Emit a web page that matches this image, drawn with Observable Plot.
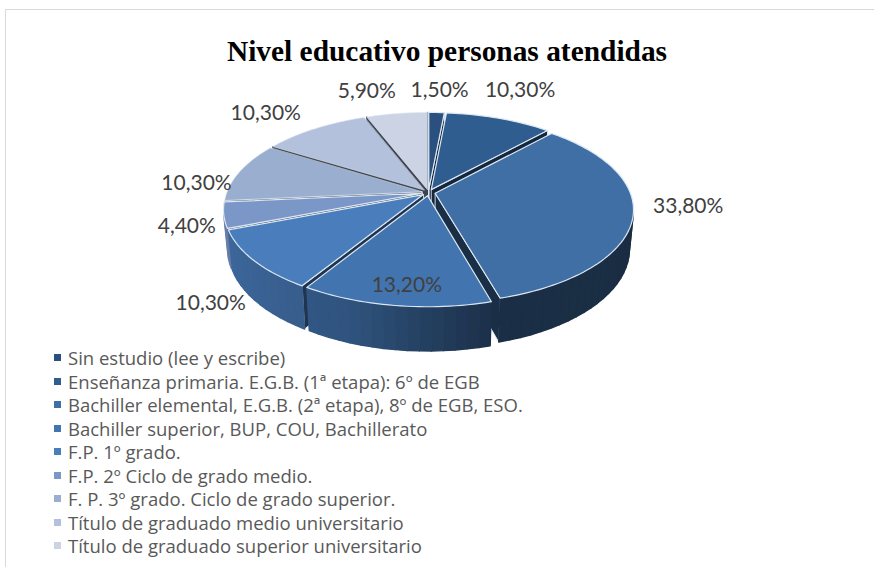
<!DOCTYPE html>
<html><head><meta charset="utf-8">
<script src="https://cdn.jsdelivr.net/npm/d3@7"></script>
<script src="https://cdn.jsdelivr.net/npm/@observablehq/plot@0.6"></script>
<style>
html,body{margin:0;padding:0;background:#fff;width:874px;height:567px;overflow:hidden}
#frame{position:absolute;left:5px;top:9px;width:869px;height:558px;border-left:1px solid #d9d9d9;border-top:1px solid #d9d9d9;box-sizing:border-box}
#title{position:absolute;left:0;top:33px;width:894px;text-align:center;font:bold 29.4px "Liberation Serif",serif;color:#000;line-height:36px}
#chart{position:absolute;left:0;top:78px}
#legend{position:absolute;left:54px;top:346px}
#legend [class$="-swatch"]{height:23.5px;line-height:23.5px;margin:0;padding:0;display:flex;align-items:center;white-space:nowrap}
#legend [class$="-swatch"] svg{margin-right:7px}
#legend [class$="-swatch"] *{overflow:visible}
</style></head><body>
<div id="frame"></div>
<div id="title">Nivel educativo personas atendidas</div>
<div id="chart"></div>
<div id="legend"></div>
<script>
const categories = ["Sin estudio (lee y escribe)","Enseñanza primaria. E.G.B. (1ª etapa): 6º de EGB","Bachiller elemental, E.G.B. (2ª etapa), 8º de EGB, ESO.","Bachiller superior, BUP, COU, Bachillerato","F.P. 1º grado.","F.P. 2º Ciclo de grado medio.","F. P. 3º grado. Ciclo de grado superior.","Título de graduado medio universitario","Título de graduado superior universitario"];
const values = [1.5,10.3,33.8,13.2,10.3,4.4,10.3,10.3,5.9];
const colors = ["#2a5080","#305d90","#3f6fa5","#4274b0","#4a7dbc","#7a97c8","#9aaecf","#b4c1dc","#cbd3e5"];
const labelTexts = ["1,50%","10,30%","33,80%","13,20%","10,30%","4,40%","10,30%","10,30%","5,90%"];

// layout (pixels)
const W=874,H=267,cx=428,cy=114,rx=195,ry=91;
const persp=.17, depth=.43, shrink=.02, explode=.035;
const labelNudge=[[3,-22],[21,-28],[55,-9],[12,-20],[-43,43],[-37,11],[-43,11],[-49,-15],[-30,-22]];

const rad=d=>d*Math.PI/180;
function project(a,r,level,ox=0,oy=0){
  const X=r*Math.sin(a)+ox, C=r*Math.cos(a)+oy;
  const s=1/(1+persp*C)*(1-shrink*level);
  return {x:X*s,y:(-C+depth*level)*s};
}
function shade(c,f){const q=d3.rgb(c);return d3.rgb(q.r*f,q.g*f,q.b*f).formatHex();}
function wallFactor(t){ // t in degrees, around the front of the pie
  const xs=[90,165,200,260,290],fs=[.40,.42,.72,.85,.85];
  for(let i=1;i<xs.length;i++) if(t<=xs[i]) return fs[i-1]+(fs[i]-fs[i-1])*(t-xs[i-1])/(xs[i]-xs[i-1]);
  return .6;
}
const arcs=d3.pie().sort(null).startAngle(0).endAngle(2*Math.PI)(values);
const order=d3.range(values.length).sort((a,b)=>Math.cos((arcs[b].startAngle+arcs[b].endAngle)/2)-Math.cos((arcs[a].startAngle+arcs[a].endAngle)/2));
const pts=[]; let nid=0;
function poly(list,fill,stroke,sw){const id=nid++;for(const p of list)pts.push({id,x:p.x,y:p.y,fill,stroke,sw});}
function signed(l){let s=0;for(let i=0;i<l.length;i++){const a=l[i],b=l[(i+1)%l.length];s+=(a.x*rx)*(b.y*ry)-(b.x*rx)*(a.y*ry);}return s/2;}
const edge="#dce7f3";
for(const i of order){
  const a0=arcs[i].startAngle,a1=arcs[i].endAngle,mid=(a0+a1)/2;
  const ox=explode*Math.sin(mid),oy=explode*Math.cos(mid);
  const P=(a,r,l)=>project(a,r,l,ox,oy);
  // cut walls
  const cuts=[{a:a1,q:[P(a1,1,0),P(0,0,0),P(0,0,1),P(a1,1,1)]},{a:a0,q:[P(0,0,0),P(a0,1,0),P(a0,1,1),P(0,0,1)]}];
  for(const {a,q} of cuts) if(signed(q)<0){
    if(a>rad(300)) poly(q,"#3d4450","#3d4450",1.2);
    else poly(q,shade(colors[i],.42),edge,.9);
  }
  // outer wall strips
  const n=Math.max(2,Math.ceil((a1-a0)/rad(3)));
  for(let j=0;j<n;j++){
    const t0=a0+(a1-a0)*j/n,t1=a0+(a1-a0)*(j+1)/n;
    const q=[P(t0,1,0),P(t1,1,0),P(t1,1,1),P(t0,1,1)];
    if(signed(q)<0){const f=shade(colors[i],wallFactor((t0+t1)/2*180/Math.PI));poly(q,f,f,1.4);}
  }
  // top face
  const top=[P(0,0,0)];
  const m=Math.max(4,Math.ceil((a1-a0)/rad(1.5)));
  for(let j=0;j<=m;j++) top.push(P(a0+(a1-a0)*j/m,1,0));
  poly(top,colors[i],edge,a0>=rad(260)?.6:1.2);
}
const labels=values.map((v,i)=>{
  const a=(arcs[i].startAngle+arcs[i].endAngle)/2;
  const p=project(a,1+explode,0);
  return {text:labelTexts[i],x:p.x+labelNudge[i][0]/rx,y:p.y+labelNudge[i][1]/ry};
});
const plot=Plot.plot({
  width:W,height:H,margin:0,
  x:{domain:[-1,1],range:[cx-rx,cx+rx],axis:null},
  y:{domain:[-1,1],range:[cy-ry,cy+ry],axis:null},
  color:{type:"identity"},
  style:{background:"transparent",overflow:"visible"},
  marks:[
    Plot.line(pts,{x:"x",y:"y",z:"id",fill:"fill",stroke:"stroke",strokeWidth:"sw",curve:"linear-closed"}),
    Plot.text(labels,{x:"x",y:"y",text:"text",fontSize:21,fontFamily:"Lato",fill:"#404040",textAnchor:"middle",lineAnchor:"middle"})
  ]
});
document.getElementById("chart").append(plot);
const leg=Plot.legend({color:{type:"ordinal",domain:categories,range:colors},legend:"swatches",columns:1,swatchSize:7,
  style:{fontFamily:"Open Sans",fontSize:"18.5px",color:"#595959"}});
document.getElementById("legend").append(leg);
</script></body></html>
